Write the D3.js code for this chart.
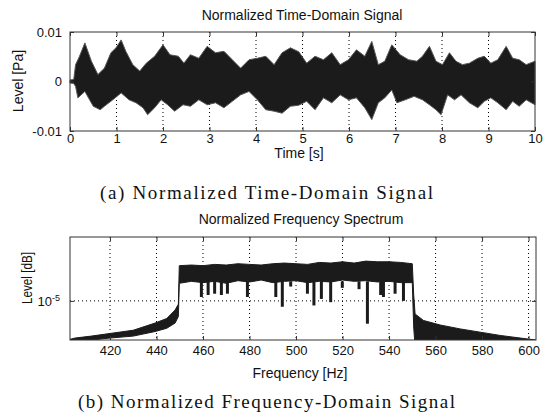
<!DOCTYPE html>
<html>
<head>
<meta charset="utf-8">
<script src="https://cdn.jsdelivr.net/npm/d3@7"></script>
<style>
  body { margin: 0; background: #fff; }
  svg { display: block; }
  .axis text { font-family: "Liberation Sans", Arial, sans-serif; font-size: 13px; fill: #111; }
  .axis path { display: none; }
  .axis line { stroke: #333; }
  .grid line { stroke: #000; stroke-dasharray: 1,3; }
  .lbl { font-family: "Liberation Sans", Arial, sans-serif; font-size: 14px; fill: #111; }
  .cap { font-family: "Liberation Serif", "Times New Roman", serif; font-size: 19px; fill: #111; }
</style>
</head>
<body>
<div id="chart"></div>
<script>
//! DATA
// time signal envelope, [t (s), level (x1e-3 Pa)]
const timeUpper = [
  [0.0, 0.3], [0.08, 0.4], [0.12, 3.4], [0.2, 5.0], [0.32, 7.8], [0.46, 4.1], [0.6, 1.4], [0.74, 2.7],
  [0.88, 5.8], [0.99, 6.8], [1.1, 8.4], [1.2, 6.1], [1.35, 3.4], [1.5, 2.1], [1.64, 3.7], [1.82, 5.1],
  [2.0, 7.4], [2.15, 5.4], [2.33, 5.1], [2.45, 3.7], [2.59, 5.4], [2.77, 4.7], [2.95, 7.1], [3.13, 5.8],
  [3.31, 6.1], [3.49, 4.4], [3.67, 2.7], [3.85, 4.4], [4.03, 4.7], [4.21, 5.1], [4.39, 3.4], [4.56, 5.8],
  [4.74, 6.8], [4.92, 6.0], [5.09, 3.7], [5.27, 5.1], [5.45, 4.4], [5.63, 5.8], [5.81, 3.4], [5.99, 4.4],
  [6.16, 6.4], [6.34, 5.1], [6.49, 8.1], [6.63, 3.4], [6.77, 4.1], [6.92, 7.4], [7.10, 5.4], [7.28, 4.4],
  [7.46, 4.1], [7.58, 5.1], [7.73, 7.1], [7.87, 4.1], [8.01, 3.4], [8.16, 5.8], [8.30, 4.1], [8.44, 3.4],
  [8.59, 3.7], [8.77, 4.7], [8.91, 5.1], [9.05, 3.7], [9.20, 4.4], [9.38, 7.1], [9.52, 4.7], [9.66, 4.4],
  [9.81, 3.4], [10.0, 4.1]
];
const timeLower = [
  [0.0, -0.3], [0.08, -0.4], [0.12, -1.0], [0.17, -3.3], [0.32, -2.0], [0.5, -5.0], [0.65, -5.7], [0.74, -5.0],
  [0.92, -3.7], [1.1, -2.3], [1.27, -3.7], [1.42, -4.3], [1.57, -5.3], [1.67, -6.7], [1.82, -5.3], [1.96, -3.7],
  [2.1, -4.7], [2.25, -6.0], [2.43, -4.7], [2.59, -5.0], [2.77, -3.7], [2.95, -4.7], [3.13, -4.3], [3.31, -5.3],
  [3.49, -4.0], [3.67, -2.7], [3.85, -2.0], [4.03, -3.7], [4.21, -5.7], [4.39, -6.0], [4.56, -6.4], [4.74, -5.0],
  [4.92, -4.8], [5.09, -4.0], [5.27, -5.7], [5.45, -3.3], [5.63, -4.3], [5.81, -2.7], [5.99, -3.7], [6.16, -3.3],
  [6.34, -5.3], [6.49, -7.7], [6.63, -4.3], [6.77, -3.3], [6.92, -1.7], [7.03, -4.3], [7.21, -3.7], [7.40, -3.0],
  [7.58, -3.7], [7.73, -4.7], [7.87, -5.7], [7.98, -6.7], [8.12, -2.7], [8.27, -3.7], [8.41, -2.7], [8.59, -4.3],
  [8.77, -5.3], [8.91, -4.0], [9.05, -3.3], [9.20, -4.3], [9.38, -5.7], [9.52, -4.0], [9.66, -5.0], [9.81, -3.7],
  [10.0, -4.7]
];
const timeTicks = [0, 1, 2, 3, 4, 5, 6, 7, 8, 9, 10];
const levelTicks = [-0.01, 0, 0.01];
const levelTickLabels = ['-0.01', '0', '0.01'];

// spectrum band, log10 of level
const specFreq  = [402.8, 405, 412, 420, 430, 439.4, 444.4, 448, 449.4, 449.8, 455, 460, 465, 470, 475, 480,
  485, 490, 495, 500, 505, 510, 515, 520, 525, 530, 535, 540, 545, 550, 550.6, 551.2, 554.8, 562, 570.6,
  579.2, 587.8, 596.4, 603.2];
const specUpper = [-5.59, -5.57, -5.54, -5.50, -5.45, -5.34, -5.27, -5.14, -5.05, -4.46, -4.45, -4.46, -4.44,
  -4.45, -4.43, -4.44, -4.45, -4.43, -4.42, -4.43, -4.44, -4.41, -4.42, -4.40, -4.42, -4.39, -4.40, -4.40,
  -4.41, -4.43, -4.9, -5.2, -5.3, -5.37, -5.43, -5.48, -5.53, -5.57, -5.6];
const specLower = [-5.6, -5.6, -5.6, -5.57, -5.54, -5.47, -5.42, -5.34, -5.24, -4.73, -4.70, -4.72, -4.70,
  -4.73, -4.69, -4.71, -4.68, -4.72, -4.70, -4.69, -4.72, -4.70, -4.71, -4.68, -4.70, -4.69, -4.71, -4.70,
  -4.72, -4.72, -5.4, -5.7, -5.7, -5.7, -5.7, -5.7, -5.7, -5.7, -5.7];
// deep notches inside the band
const dipFreq  = [459.3, 462.2, 465.0, 467.9, 470.5, 479.1, 491.3, 494.1, 497.7, 504.9, 507.7, 510.9, 514.9,
  519.9, 527.1, 530.7, 536.4, 537.6, 542.6, 546.2];
const dipLevel = [-4.94, -4.91, -4.89, -4.91, -4.89, -4.94, -4.94, -5.09, -4.78, -4.89, -5.07, -4.97, -5.02,
  -4.80, -4.82, -5.35, -4.91, -4.94, -4.89, -5.0];
const freqTicks = [420, 440, 460, 480, 500, 520, 540, 560, 580, 600];

//! CONSTS
const WIDTH = 551, HEIGHT = 414;
const INK = '#1b1b1b';

const svg = d3.select('#chart').append('svg')
  .attr('width', WIDTH).attr('height', HEIGHT);
svg.append('rect').attr('width', WIDTH).attr('height', HEIGHT).attr('fill', '#fff');

//! TOP : time domain
const T = { l: 70, r: 535, t: 32, b: 131 };
const xT = d3.scaleLinear().domain([0, 10]).range([T.l, T.r]);
const yT = d3.scaleLinear().domain([-0.01, 0.01]).range([T.b, T.t]);

svg.append('g').attr('class', 'grid')
  .selectAll('line').data(timeTicks.slice(1, -1)).enter().append('line')
  .attr('x1', d => xT(d)).attr('x2', d => xT(d))
  .attr('y1', T.t).attr('y2', T.b);

const sigPts = timeUpper.map(d => [xT(d[0]), yT(d[1] * 1e-3)])
  .concat(timeLower.slice().reverse().map(d => [xT(d[0]), yT(d[1] * 1e-3)]));
svg.append('path')
  .attr('d', d3.line()(sigPts) + 'Z')
  .attr('fill', INK).attr('stroke', '#555').attr('stroke-width', 1);

svg.append('g').attr('class', 'axis').attr('transform', `translate(0,${T.b})`)
  .call(d3.axisBottom(xT).tickValues(timeTicks).tickSize(-4).tickPadding(3).tickFormat(d3.format('d')));
svg.append('g').attr('class', 'axis').attr('transform', `translate(0,${T.t})`)
  .call(d3.axisTop(xT).tickValues(timeTicks).tickSize(-4).tickFormat(''));
svg.append('g').attr('class', 'axis').attr('transform', `translate(${T.l},0)`)
  .call(d3.axisLeft(yT).tickValues(levelTicks).tickSize(-4).tickPadding(8)
    .tickFormat((d, i) => levelTickLabels[i]));
svg.append('g').attr('class', 'axis').attr('transform', `translate(${T.r},0)`)
  .call(d3.axisRight(yT).tickValues(levelTicks).tickSize(-4).tickFormat(''));

svg.append('rect').attr('x', T.l).attr('y', T.t).attr('width', T.r - T.l).attr('height', T.b - T.t)
  .attr('fill', 'none').attr('stroke', '#333');

svg.append('text').attr('class', 'lbl').attr('x', 302).attr('y', 20).attr('text-anchor', 'middle')
  .text('Normalized Time-Domain Signal');
svg.append('text').attr('class', 'lbl').attr('x', 299).attr('y', 158).attr('text-anchor', 'middle')
  .text('Time [s]');
svg.append('text').attr('class', 'lbl').attr('text-anchor', 'middle')
  .attr('transform', 'translate(23,81) rotate(-90)')
  .text('Level [Pa]');

svg.append('text').attr('class', 'cap').attr('x', 100).attr('y', 199)
  .attr('textLength', 333).attr('lengthAdjust', 'spacing')
  .text('(a) Normalized Time-Domain Signal');

//! BOTTOM : spectrum
const F = { l: 70, r: 536, t: 237, b: 340 };
const xF = d3.scaleLinear().domain([402.8, 603.2]).range([F.l, F.r]);
const yF = d3.scaleLog().domain([Math.pow(10, -5.6), Math.pow(10, -4.02)]).range([F.b, F.t]);

svg.append('defs').append('clipPath').attr('id', 'clipF')
  .append('rect').attr('x', F.l).attr('y', F.t).attr('width', F.r - F.l).attr('height', F.b - F.t);

const gridF = svg.append('g').attr('class', 'grid');
gridF.selectAll('.v').data(freqTicks).enter().append('line')
  .attr('x1', d => xF(d)).attr('x2', d => xF(d))
  .attr('y1', F.t).attr('y2', F.b);
gridF.append('line')
  .attr('x1', F.l).attr('x2', F.r)
  .attr('y1', yF(1e-5)).attr('y2', yF(1e-5));

const spec = specFreq.map((f, i) => ({ f, hi: specUpper[i], lo: specLower[i] }));
const plotF = svg.append('g').attr('clip-path', 'url(#clipF)');
plotF.append('path')
  .datum(spec)
  .attr('d', d3.area()
    .x(d => xF(d.f))
    .y0(d => yF(Math.pow(10, d.lo)))
    .y1(d => yF(Math.pow(10, d.hi))))
  .attr('fill', INK).attr('stroke', INK).attr('stroke-width', 1);

plotF.selectAll('.dip').data(dipFreq).enter().append('line')
  .attr('x1', d => xF(d)).attr('x2', d => xF(d))
  .attr('y1', yF(Math.pow(10, -4.7)))
  .attr('y2', (d, i) => yF(Math.pow(10, dipLevel[i])))
  .attr('stroke', INK).attr('stroke-width', 3);

svg.append('g').attr('class', 'axis').attr('transform', `translate(0,${F.b})`)
  .call(d3.axisBottom(xF).tickValues(freqTicks).tickSize(-4).tickPadding(6).tickFormat(d3.format('d')));
svg.append('g').attr('class', 'axis').attr('transform', `translate(0,${F.t})`)
  .call(d3.axisTop(xF).tickValues(freqTicks).tickSize(-4).tickFormat(''));
svg.append('g').attr('class', 'axis').attr('transform', `translate(${F.l},0)`)
  .call(d3.axisLeft(yF).tickValues([1e-5]).tickSize(-4).tickPadding(10).tickFormat(() => '10'))
  .call(g => g.selectAll('.tick text').append('tspan')
    .attr('dy', '-0.55em').attr('font-size', '9px').text('-5'));
svg.append('g').attr('class', 'axis').attr('transform', `translate(${F.r},0)`)
  .call(d3.axisRight(yF).tickValues([1e-5]).tickSize(-4).tickFormat(''));

svg.append('rect').attr('x', F.l).attr('y', F.t).attr('width', F.r - F.l).attr('height', F.b - F.t)
  .attr('fill', 'none').attr('stroke', '#333');

svg.append('text').attr('class', 'lbl').attr('x', 301).attr('y', 224).attr('text-anchor', 'middle')
  .text('Normalized Frequency Spectrum');
svg.append('text').attr('class', 'lbl').attr('x', 300).attr('y', 378).attr('text-anchor', 'middle')
  .text('Frequency [Hz]');
svg.append('text').attr('class', 'lbl').attr('text-anchor', 'middle')
  .attr('transform', 'translate(32,278) rotate(-90)')
  .attr('textLength', 52).attr('lengthAdjust', 'spacingAndGlyphs')
  .text('Level [dB]');

svg.append('text').attr('class', 'cap').attr('x', 78).attr('y', 408)
  .attr('textLength', 377).attr('lengthAdjust', 'spacing')
  .text('(b) Normalized Frequency-Domain Signal');
</script>
</body>
</html>
